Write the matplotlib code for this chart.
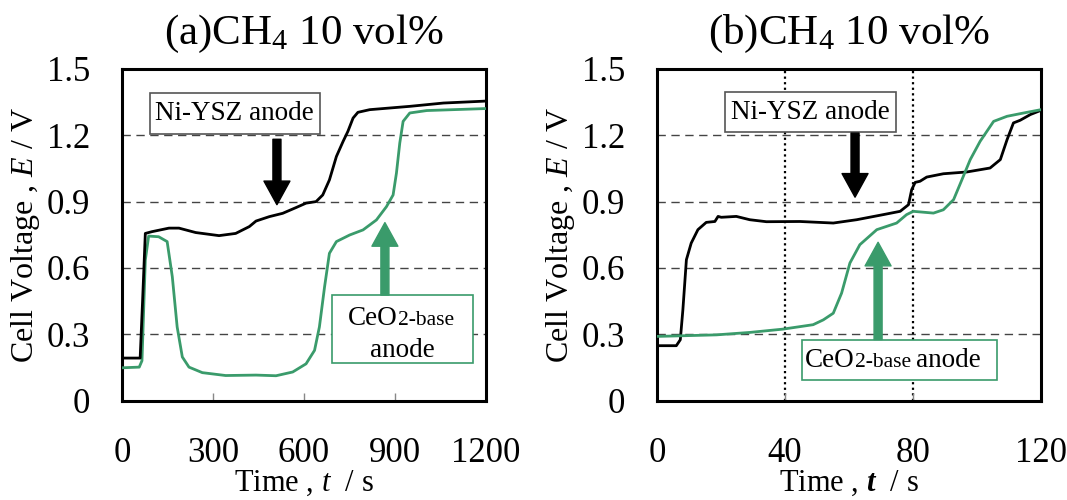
import numpy as np
import matplotlib
matplotlib.use('Agg')
import matplotlib.pyplot as plt
from matplotlib.patches import Rectangle
from matplotlib import rcParams

rcParams['font.family'] = 'serif'
rcParams['font.serif'] = ['Liberation Serif']
rcParams['mathtext.fontset'] = 'custom'
rcParams['mathtext.rm'] = 'Liberation Serif'
rcParams['mathtext.it'] = 'Liberation Serif:italic'
rcParams['mathtext.bf'] = 'Liberation Serif:bold'
rcParams['mathtext.bfit'] = 'Liberation Serif:italic:bold'

GREEN = '#3A9B6B'

# (a) CH4 10 vol%, 0-1200 s
ta_ni = [0, 60, 68, 77, 99, 155, 188, 243, 320, 375, 420, 442, 486, 530, 574, 607,
         640, 662, 684, 707, 729, 745, 762, 778, 817, 949, 1060, 1187, 1200]
va_ni = [0.192, 0.192, 0.45, 0.756, 0.764, 0.78, 0.78, 0.76, 0.746, 0.756, 0.787, 0.812,
         0.832, 0.847, 0.873, 0.893, 0.90, 0.93, 0.998, 1.104, 1.172, 1.218, 1.278, 1.304,
         1.316, 1.331, 1.346, 1.354, 1.355]
ta_ce = [0, 57, 66, 77, 88, 121, 149, 166, 182, 199, 221, 265, 342, 442, 508, 563, 607,
         635, 651, 668, 684, 707, 751, 795, 839, 872, 894, 905, 916, 927, 949, 1005, 1200]
va_ce = [0.148, 0.151, 0.18, 0.635, 0.744, 0.741, 0.719, 0.56, 0.333, 0.197, 0.151, 0.126,
         0.113, 0.115, 0.112, 0.129, 0.166, 0.227, 0.333, 0.514, 0.666, 0.719, 0.749, 0.772,
         0.817, 0.877, 0.93, 1.029, 1.165, 1.263, 1.301, 1.312, 1.321]

# (b) CH4 10 vol%, 0-120 s
tb_ni = [0, 6.05, 7.3, 8.1, 9.2, 10.7, 12.8, 15.4, 18.1, 19.1, 20.1, 24.8, 29, 34.2, 44.7,
         55.1, 62.4, 70.7, 76, 78.6, 79.6, 80.7, 82.2, 84.3, 89.5, 96.8, 104.1, 107.3, 109.4,
         111.4, 113.5, 116.7, 120]
vb_ni = [0.248, 0.248, 0.275, 0.41, 0.637, 0.712, 0.773, 0.806, 0.81, 0.833, 0.829, 0.833,
         0.818, 0.809, 0.81, 0.803, 0.818, 0.841, 0.856, 0.886, 0.954, 0.987, 0.992, 1.011,
         1.026, 1.034, 1.052, 1.09, 1.18, 1.256, 1.268, 1.294, 1.313]
tb_ce = [0, 8.1, 18.6, 29, 39.4, 48.8, 52, 55.1, 57.7, 60.3, 63.4, 68.7, 74.9, 78, 80.1,
         86.4, 89.5, 92.7, 95.3, 97.9, 101, 105.2, 109.4, 114.6, 120]
vb_ce = [0.29, 0.293, 0.297, 0.308, 0.323, 0.343, 0.365, 0.395, 0.486, 0.622, 0.705, 0.773,
         0.803, 0.841, 0.856, 0.848, 0.863, 0.909, 0.999, 1.09, 1.173, 1.263, 1.286, 1.301,
         1.316]

yticks = [0, 0.3, 0.6, 0.9, 1.2, 1.5]
ytick_labels = ['0', '0.3', '0.6', '0.9', '1.2', '1.5']
xticks_a = [0, 300, 600, 900, 1200]
xticks_b = [0, 40, 80, 120]

fig = plt.figure(figsize=(10.67, 5.0), dpi=100)
ax1 = fig.add_axes([0.1143, 0.199, 0.3411, 0.663])
ax2 = fig.add_axes([0.6157, 0.199, 0.3599, 0.663])


def style(ax, xticks, xmax, title, tlabel):
    ax.set_xlim(0, xmax)
    ax.set_ylim(0, 1.5)
    ax.set_yticks(yticks)
    ax.set_yticklabels(ytick_labels)
    ax.set_xticks(xticks)
    ax.tick_params(axis='y', length=0, pad=23, labelsize=25)
    ax.tick_params(axis='x', direction='in', length=6, width=1, color='#888888',
                   pad=26, labelsize=25)
    for y in yticks[1:-1]:
        ax.axhline(y, color='#444444', lw=1, dashes=(6, 4), zorder=1)
    for s in ax.spines.values():
        s.set_linewidth(2.2)
    ax.set_title(title, fontsize=31, pad=18)
    ax.set_xlabel(tlabel, fontsize=22, labelpad=-1)
    ax.set_ylabel('Cell Voltage , $E$ / V', fontsize=23, labelpad=3)


style(ax1, xticks_a, 1200, '(a)CH$_4$ 10 vol%', 'Time , $t$  / s')
style(ax2, xticks_b, 120, '(b)CH$_4$ 10 vol%', r'Time , $\mathbfit{t}$  / s')

for x in [40, 80]:
    ax2.axvline(x, color='black', lw=1.6, ls=(0, (1, 1.5)), zorder=1)

ax1.plot(ta_ce, va_ce, color=GREEN, lw=2, zorder=3)
ax1.plot(ta_ni, va_ni, color='black', lw=2, zorder=4)
ax2.plot(tb_ni, vb_ni, color='black', lw=2, zorder=3)
ax2.plot(tb_ce, vb_ce, color=GREEN, lw=2, zorder=4)


def box(ax, x0, y0, x1, y1, ec, lw):
    ax.add_patch(Rectangle((x0, y0), x1 - x0, y1 - y0, facecolor='white',
                           edgecolor=ec, lw=lw, zorder=5))


def arrow(ax, tail, tip, color):
    ax.annotate('', xy=tip, xytext=tail, zorder=6,
                arrowprops=dict(arrowstyle='simple,head_length=0.5,head_width=0.55,tail_width=0.17',
                                mutation_scale=34, color=color, shrinkA=0, shrinkB=0))


# panel (a) annotations
box(ax1, 92, 1.205, 653, 1.39, '#555555', 1.2)
ax1.text(372, 1.297, 'Ni-YSZ anode', fontsize=19.5, ha='center', va='center', zorder=6)
arrow(ax1, (511, 1.182), (511, 0.886), 'black')
box(ax1, 693, 0.168, 1158, 0.477, GREEN, 1.2)
ax1.text(910, 0.341, 'CeO', fontsize=19.5, ha='right', va='baseline', zorder=6)
ax1.text(910, 0.341, '2-base', fontsize=15.5, ha='left', va='baseline', zorder=6)
ax1.text(926, 0.195, 'anode', fontsize=19.5, ha='center', va='baseline', zorder=6)
arrow(ax1, (867, 0.477), (867, 0.805), GREEN)

# panel (b) annotations
box(ax2, 45.3, 0.095, 106.2, 0.272, GREEN, 1.2)
ax2.text(61.9, 0.15, 'CeO', fontsize=19.5, ha='right', va='baseline', zorder=6)
ax2.text(61.9, 0.15, '2-base', fontsize=15.5, ha='left', va='baseline', zorder=6)
ax2.text(81.0, 0.15, 'anode', fontsize=19.5, ha='left', va='baseline', zorder=6)
arrow(ax2, (69.1, 0.276), (69.1, 0.716), GREEN)
box(ax2, 21.25, 1.214, 74.7, 1.396, '#555555', 1.2)
ax2.text(48, 1.305, 'Ni-YSZ anode', fontsize=19.5, ha='center', va='center', zorder=6)
arrow(ax2, (61.9, 1.21), (61.9, 0.92), 'black')

fig.savefig('out.png', dpi=100, facecolor='white')
